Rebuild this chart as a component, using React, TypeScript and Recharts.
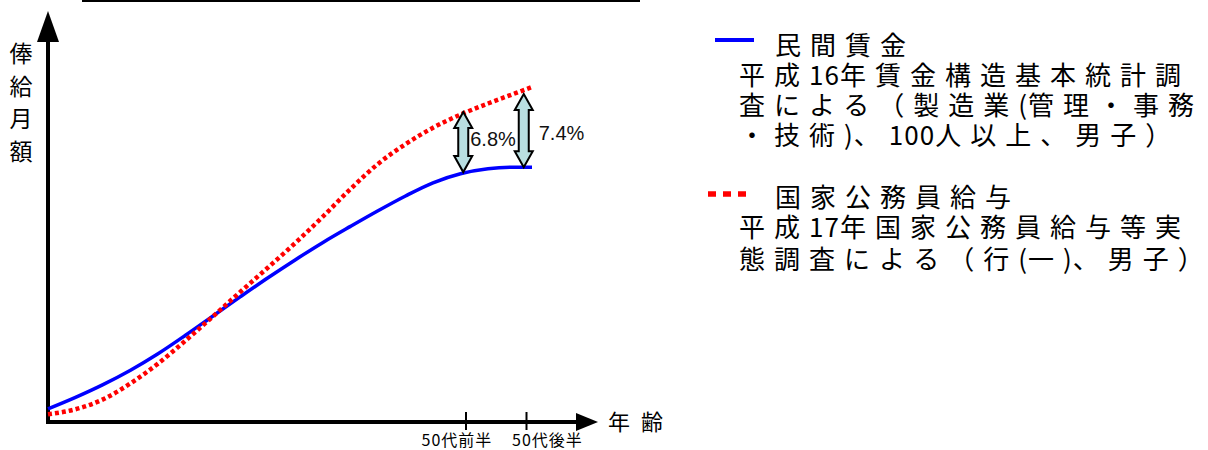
import React from 'react';
import { Legend, Line, LineChart, ReferenceLine, XAxis, YAxis } from 'recharts';

// horizontal position along the age axis (0 = origin, 100 = arrow tip)
const ages = [0, 5, 10, 15, 20, 25, 30, 35, 40, 45, 50, 55, 60, 65, 70, 75, 80, 85, 88];
const privateWage = [3.2, 6.0, 9.1, 12.6, 16.6, 21.1, 25.8, 30.5, 35.1, 39.5, 43.7, 47.6, 51.4, 55.0, 58.2, 60.4, 61.6, 62.0, 62.0];
const publicWage = [1.9, 3.1, 5.5, 9.4, 14.2, 19.8, 25.7, 31.7, 37.6, 43.6, 50.0, 56.7, 62.8, 67.6, 71.6, 74.8, 77.5, 80.0, 81.5];

const tickPositions = [76, 87];
const tickLabels = ['50代前半', '50代後半'];

const gapPositions = [75.5, 86.5];
const gapLow = [60.8, 62.0];
const gapHigh = [75.4, 79.8];
const gapLabels = ['6.8%', '7.4%'];

const seriesKeys = ['private', 'public'];
const seriesNames = ['民間賃金', '国家公務員給与'];
const seriesNotes = [
  ['平成16年賃金構造基本統計調', '査による（製造業(管理・事務', '・技術)、100人以上、男子）'],
  ['平成17年国家公務員給与等実', '態調査による（行(一)、男子）'],
];

const yLabel = ['俸', '給', '月', '額'];
const xLabel = '年 齢';

const JP = '"Noto Sans CJK JP", "Noto Sans", sans-serif';

const data = ages.map((x, i) => ({ x, private: privateWage[i], public: publicWage[i] }));

const XArrow = (p: any) => (
  <g>
    <line x1={p.x1 - 2} y1={p.y1} x2={p.x2 - 20} y2={p.y2} stroke="#000" strokeWidth={4} />
    <polygon points={`${p.x2},${p.y2} ${p.x2 - 22},${p.y2 - 9} ${p.x2 - 22},${p.y2 + 9}`} fill="#000" />
  </g>
);

const YArrow = (p: any) => (
  <g>
    <line x1={p.x1} y1={p.y1 + 2} x2={p.x2} y2={p.y2 + 28} stroke="#000" strokeWidth={4} />
    <polygon points={`${p.x2},${p.y2} ${p.x2 - 11},${p.y2 + 31} ${p.x2 + 11},${p.y2 + 31}`} fill="#000" />
  </g>
);

const GapArrow = (p: any) => {
  const cx = p.x1;
  const top = Math.min(p.y1, p.y2);
  const bot = Math.max(p.y1, p.y2);
  const h = 16;
  const pts = [
    [cx, top], [cx + 9, top + h], [cx + 5, top + h], [cx + 5, bot - h], [cx + 9, bot - h],
    [cx, bot], [cx - 9, bot - h], [cx - 5, bot - h], [cx - 5, top + h], [cx - 9, top + h],
  ].map((q) => q.join(',')).join(' ');
  const mid = (top + bot) / 2;
  return (
    <g>
      <polygon points={pts} fill="#b9dfe1" stroke="#000" strokeWidth={2} />
      <text x={cx + p.dx} y={mid + p.dy} fontSize={20} fontFamily='"Liberation Sans", Arial, sans-serif' fill="#111">
        {p.label}
      </text>
    </g>
  );
};

// the labels sit a little off their tick marks, as in the original
const tickLabelShift = [-9, 21];

const AgeTick = (p: any) => {
  const i = tickPositions.indexOf(p.payload.value);
  return (
    <g>
      <line x1={p.x} x2={p.x} y1={p.y - 10} y2={p.y + 8} stroke="#000" strokeWidth={2} />
      <text x={p.x + tickLabelShift[i]} y={p.y + 24} textAnchor="middle" fontSize={16} letterSpacing={1} fontFamily={JP} fill="#000">
        {tickLabels[i]}
      </text>
    </g>
  );
};

// full-width characters get wide spacing, ascii runs stay tight
const Spaced = ({ text, x, y }: { text: string; x: number; y: number }) => {
  const segs: { s: string; a: boolean }[] = [];
  for (const ch of text) {
    const a = ch.charCodeAt(0) < 0x2000;
    if (segs.length && segs[segs.length - 1].a === a) segs[segs.length - 1].s += ch;
    else segs.push({ s: ch, a });
  }
  return (
    <text x={x} y={y} dominantBaseline="central">
      {segs.map((g, i) => (
        <tspan key={i} letterSpacing={g.a ? 1 : 9}>{g.s}</tspan>
      ))}
    </text>
  );
};

const groupTop = [23, 175];

const LegendBox = (props: any) => {
  const payload = props.payload || [];
  return (
    <svg width={508} height={280} style={{ display: 'block', overflow: 'visible' }}>
      {payload.map((entry: any) => {
        const g = seriesKeys.indexOf(entry.dataKey);
        const cy = groupTop[g];
        return (
          <g key={g} fontFamily={JP} fontSize={26} fill="#000">
            {g === 1 ? (
              <line x1={8} x2={46} y1={cy - 1} y2={cy - 1} stroke={entry.color} strokeWidth={5.5} strokeDasharray="8 7" />
            ) : (
              <line x1={15} x2={54} y1={cy - 3} y2={cy - 3} stroke={entry.color} strokeWidth={4} />
            )}
            <Spaced text={seriesNames[g]} x={75} y={cy} />
            {seriesNotes[g].map((line, k) => (
              <Spaced key={k} text={line} x={39} y={cy + 30 * (k + 1) + (g === 1 && k === 1 ? 2 : 0)} />
            ))}
          </g>
        );
      })}
    </svg>
  );
};

const labelOffsets = [{ dx: 7, dy: 4 }, { dx: 15, dy: 9.5 }];

export default function App() {
  return (
    <div style={{ position: 'absolute', left: 0, top: 0, width: 1208, height: 450, background: '#fff' }}>
      <div style={{ position: 'absolute', left: 82, top: 0, width: 558, height: 2, background: '#000' }} />
      <div style={{ position: 'absolute', left: 9, top: 36, width: 24, fontFamily: JP, fontSize: 23, lineHeight: '32.5px', textAlign: 'center', color: '#000' }}>
        {yLabel.map((c) => (
          <div key={c}>{c}</div>
        ))}
      </div>
      <div style={{ position: 'absolute', left: 608, top: 405, fontFamily: JP, fontSize: 22, lineHeight: '30px', letterSpacing: 3, color: '#000', whiteSpace: 'pre' }}>
        {xLabel}
      </div>
      <LineChart width={1208} height={450} data={data} margin={{ top: 11, left: 48, right: 610, bottom: 27 }}>
        <XAxis dataKey="x" type="number" domain={[0, 100]} ticks={tickPositions} axisLine={false} tickLine={false}
          tickSize={0} tickMargin={0} height={1} interval={0} tick={<AgeTick />} />
        <YAxis type="number" domain={[0, 100]} hide />
        <ReferenceLine segment={[{ x: 0, y: 0 }, { x: 100, y: 0 }]} shape={(p: any) => <XArrow {...p} />} />
        <ReferenceLine segment={[{ x: 0, y: 0 }, { x: 0, y: 100 }]} shape={(p: any) => <YArrow {...p} />} />
        <Line type="monotone" dataKey="private" name={seriesNames[0]} stroke="#0000ff" strokeWidth={3.5} dot={false} isAnimationActive={false} />
        <Line type="monotone" dataKey="public" name={seriesNames[1]} stroke="#ff0000" strokeWidth={4.5} strokeDasharray="4 3" dot={false} isAnimationActive={false} />
        {gapPositions.map((x, i) => (
          <ReferenceLine key={i} segment={[{ x, y: gapLow[i] }, { x, y: gapHigh[i] }]}
            shape={(p: any) => <GapArrow {...p} label={gapLabels[i]} dx={labelOffsets[i].dx} dy={labelOffsets[i].dy} />} />
        ))}
        <Legend layout="horizontal" verticalAlign="middle" align="center" content={<LegendBox />}
          wrapperStyle={{ left: 700, top: 20, width: 508, height: 280 }} />
      </LineChart>
    </div>
  );
}
